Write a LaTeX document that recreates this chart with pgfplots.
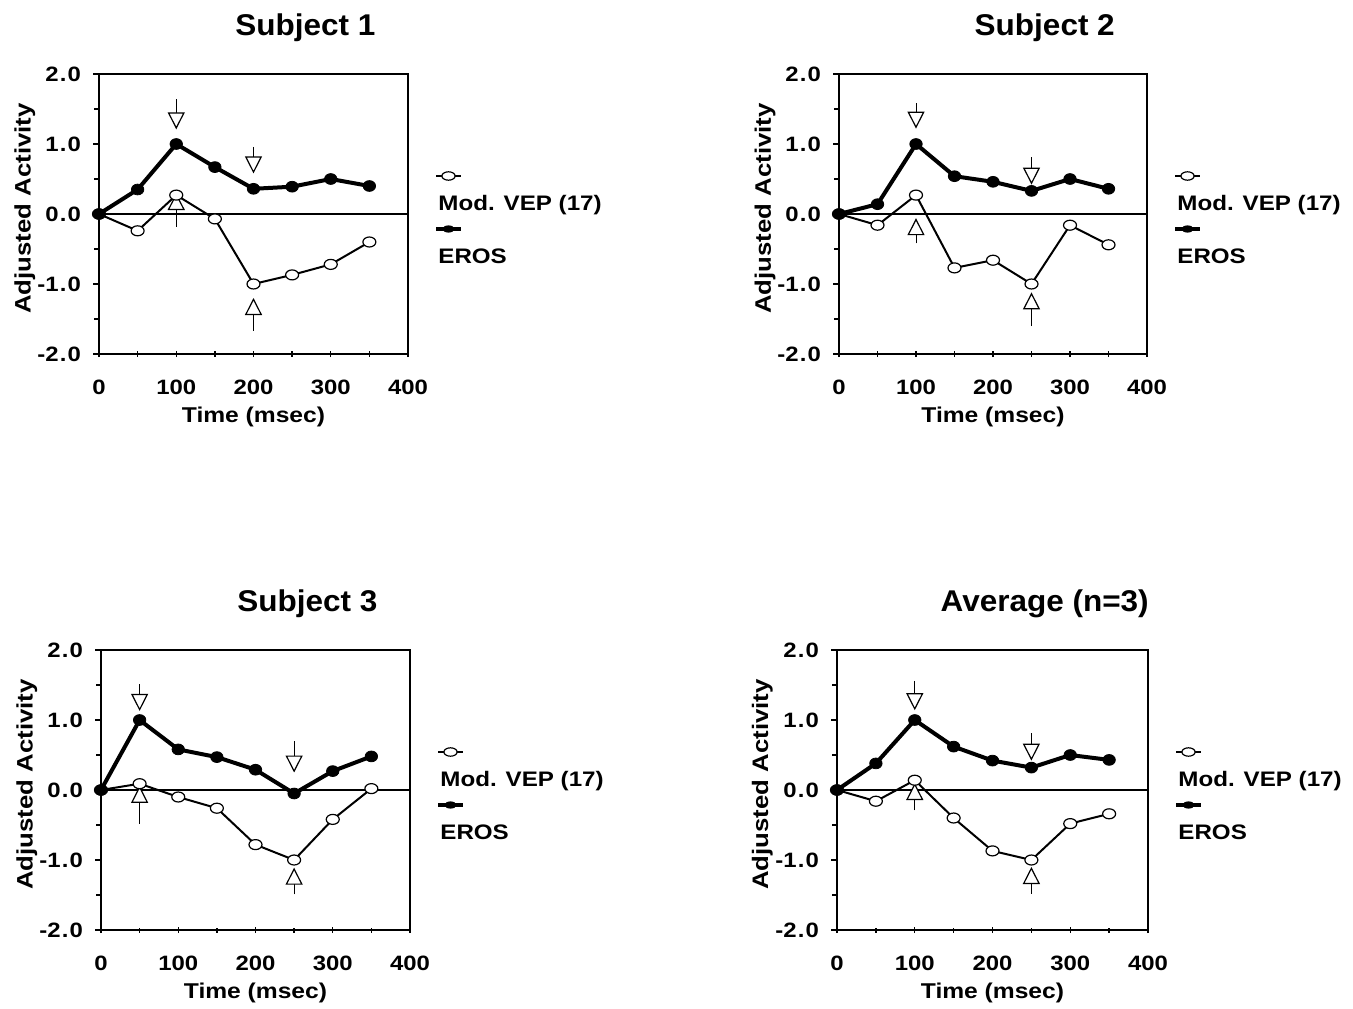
\documentclass[border=0pt]{standalone}
\usepackage{pgfplots}
\pgfplotsset{compat=1.18}
\usepackage{fontspec}
\setmainfont{Liberation Sans}
\newfontfamily\wfont[FakeStretch=1.15]{Liberation Sans}
\newfontfamily\tfont[FakeStretch=1.05]{Liberation Sans}
\usetikzlibrary{arrows.meta}

\pgfplotsset{
  myax/.style={
    scale only axis, height=140pt,
    xmin=0, xmax=400, ymin=-2, ymax=2,
    xtick={0,100,...,400},
    minor xtick={50,150,250,350},
    ytick={-2,-1,0,1,2},
    minor ytick={-1.5,-0.5,0.5,1.5},
    yticklabels={-2\kern0.6pt.\kern0.6pt0,-1\kern0.6pt.\kern0.6pt0,0\kern0.6pt.\kern0.6pt0,1\kern0.6pt.\kern0.6pt0,2\kern0.6pt.\kern0.6pt0},
    xtick align=center, ytick align=outside, tick pos=left,
    major tick length=3pt, minor tick length=2.5pt,
    axis line style={line width=1pt},
    every tick/.style={black, line width=0.7pt},
    /pgf/number format/assume math mode=true,
    tick label style={font=\fontsize{10.4}{12}\wfont\bfseries},
    xticklabel style={yshift=-8pt},
    yticklabel style={xshift=-2.5pt},
    ylabel={Adjusted Activity},
    ylabel style={at={(axis description cs:-0.24,0.52)}, anchor=center, font=\fontsize{11.2}{13}\wfont\bfseries},
    clip=false,
  },
  vep/.style={black, line width=1pt, mark=*, mark size=2.5pt,
    mark options={fill=white, draw=black, line width=0.6pt, xscale=1.3}},
  eros/.style={black, line width=2pt, mark=*, mark size=2.7pt,
    mark options={fill=black, draw=black, line width=0.4pt, xscale=1.15}},
}

\tikzset{pk/.style={line width=0.5pt, -{Triangle[open, fill=white, length=8.5pt, width=8.5pt, line width=0.6pt]}}}

\newcommand{\zeroline}{\addplot[black, line width=0.9pt, mark=none, forget plot] coordinates {(0,0) (400,0)};}
\newcommand{\arr}[3]{\draw[pk] (axis cs:#1,#2) -- (axis cs:#1,#3);}
\newcommand{\decor}[1]{%
  \node[anchor=base, inner sep=0pt, font=\fontsize{15}{17}\tfont\bfseries] at (rel axis cs:0.668,1.139) {#1};
  \node[anchor=base, inner sep=0pt, font=\fontsize{10.7}{12}\wfont\bfseries] at (rel axis cs:0.5,-0.243) {Time (msec)};
  \draw[black, line width=0.8pt] ([xshift=14pt,yshift=89pt]rel axis cs:1,0) -- ++(12.5pt,0pt);
  \draw[black, fill=white, line width=0.6pt] ([xshift=20.25pt,yshift=89pt]rel axis cs:1,0) ellipse[x radius=3.3pt, y radius=2.1pt];
  \node[anchor=west, inner sep=0pt, font=\fontsize{10.5}{12}\wfont\bfseries] at ([xshift=15pt,yshift=74.5pt]rel axis cs:1,0) {Mod. VEP (17)};
  \draw[black, line width=1.6pt] ([xshift=14pt,yshift=62.5pt]rel axis cs:1,0) -- ++(12.5pt,0pt);
  \fill[black] ([xshift=20.25pt,yshift=62.5pt]rel axis cs:1,0) ellipse[x radius=3pt, y radius=1.8pt];
  \node[anchor=west, inner sep=0pt, font=\fontsize{10.5}{12}\wfont\bfseries] at ([xshift=15pt,yshift=49pt]rel axis cs:1,0) {EROS};
}

\begin{document}
\begin{tikzpicture}
\useasboundingbox (0,0) rectangle (676.5pt,504pt);

% Subject 1
\begin{axis}[myax, width=154.5pt, at={(49.5pt,327pt)}, anchor=south west]
\zeroline
\addplot[vep] coordinates {(0,0) (50,-0.24) (100,0.27) (150,-0.07) (200,-1.0) (250,-0.87) (300,-0.72) (350,-0.40)};
\addplot[eros] coordinates {(0,0) (50,0.35) (100,1.0) (150,0.67) (200,0.36) (250,0.39) (300,0.50) (350,0.40)};
\arr{100}{1.64}{1.21}
\arr{200}{0.96}{0.58}
\arr{100}{-0.18}{0.30}
\arr{200}{-1.67}{-1.20}
\decor{Subject 1}
\end{axis}

% Subject 2
\begin{axis}[myax, width=154pt, at={(419.5pt,327pt)}, anchor=south west]
\zeroline
\addplot[vep] coordinates {(0,0) (50,-0.16) (100,0.27) (150,-0.77) (200,-0.66) (250,-1.0) (300,-0.16) (350,-0.44)};
\addplot[eros] coordinates {(0,0) (50,0.14) (100,1.0) (150,0.54) (200,0.46) (250,0.33) (300,0.50) (350,0.36)};
\arr{100}{1.58}{1.22}
\arr{250}{0.81}{0.42}
\arr{100}{-0.42}{-0.06}
\arr{250}{-1.60}{-1.12}
\decor{Subject 2}
\end{axis}

% Subject 3
\begin{axis}[myax, width=154.5pt, at={(50.5pt,39pt)}, anchor=south west]
\zeroline
\addplot[vep] coordinates {(0,0) (50,0.09) (100,-0.10) (150,-0.26) (200,-0.78) (250,-1.0) (300,-0.42) (350,0.02)};
\addplot[eros] coordinates {(0,0) (50,1.0) (100,0.58) (150,0.47) (200,0.29) (250,-0.05) (300,0.27) (350,0.48)};
\arr{50}{1.51}{1.13}
\arr{250}{0.70}{0.25}
\arr{50}{-0.48}{0.06}
\arr{250}{-1.49}{-1.11}
\decor{Subject 3}
\end{axis}

% Average
\begin{axis}[myax, width=155.5pt, at={(418.5pt,39pt)}, anchor=south west]
\zeroline
\addplot[vep] coordinates {(0,0) (50,-0.16) (100,0.14) (150,-0.40) (200,-0.87) (250,-1.0) (300,-0.48) (350,-0.34)};
\addplot[eros] coordinates {(0,0) (50,0.38) (100,1.0) (150,0.62) (200,0.42) (250,0.32) (300,0.50) (350,0.43)};
\arr{100}{1.56}{1.14}
\arr{250}{0.81}{0.42}
\arr{100}{-0.29}{0.10}
\arr{250}{-1.48}{-1.10}
\decor{Average (n=3)}
\end{axis}
\end{tikzpicture}
\end{document}
